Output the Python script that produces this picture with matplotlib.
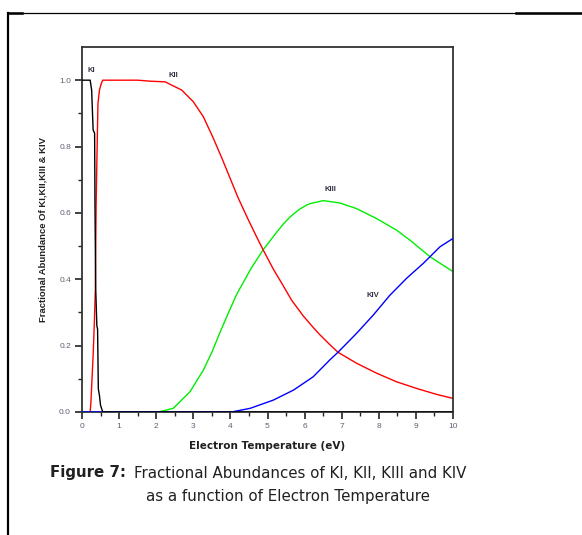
import matplotlib
matplotlib.use("Agg")
import matplotlib.pyplot as plt
from matplotlib.ticker import MultipleLocator, FixedLocator, FormatStrFormatter
from matplotlib.lines import Line2D

plt.rcParams['font.family'] = ['Liberation Sans', 'DejaVu Sans']

# ---- data ----
ki_x = [0.0, 0.16, 0.22, 0.26, 0.30, 0.34, 0.35, 0.37, 0.40, 0.42, 0.44, 0.47, 0.50, 0.53, 0.56, 1.0, 2.0, 4.0, 6.0, 8.0, 10.0]
ki_y = [1.0, 1.0, 1.0, 0.97, 0.85, 0.84, 0.62, 0.37, 0.26, 0.25, 0.07, 0.05, 0.02, 0.01, 0.0, 0.0, 0.0, 0.0, 0.0, 0.0, 0.0]

kii_x = [0.22, 0.24, 0.27, 0.30, 0.33, 0.36, 0.38, 0.40, 0.43, 0.47, 0.52, 0.56, 1.0, 1.5, 1.83, 2.24, 2.69, 3.0, 3.27,
         3.54, 3.77, 3.99, 4.21, 4.48, 4.71, 4.89, 5.16, 5.40, 5.65, 5.96, 6.23, 6.41, 6.68, 6.90, 7.40, 7.94, 8.48,
         9.02, 9.56, 10.0]
kii_y = [0.0, 0.03, 0.10, 0.17, 0.26, 0.37, 0.62, 0.75, 0.93, 0.97, 0.99, 1.0, 1.0, 1.0, 0.997, 0.995, 0.97, 0.935, 0.89,
         0.825, 0.765, 0.705, 0.645, 0.58, 0.527, 0.487, 0.43, 0.385, 0.337, 0.29, 0.255, 0.233, 0.203, 0.18, 0.147, 0.117,
         0.091, 0.071, 0.053, 0.041]

kiii_x = [0.0, 2.06, 2.46, 2.91, 3.27, 3.50, 3.72, 3.94, 4.17, 4.57, 4.89, 5.20, 5.43, 5.61, 5.85, 6.06, 6.15, 6.50, 6.95,
          7.40, 7.94, 8.48, 8.84, 9.38, 10.0]
kiii_y = [0.0, 0.0, 0.011, 0.061, 0.126, 0.18, 0.24, 0.297, 0.355, 0.435, 0.49, 0.535, 0.567, 0.588, 0.61, 0.624, 0.628,
          0.637, 0.63, 0.613, 0.583, 0.548, 0.518, 0.468, 0.423]

kiv_x = [0.0, 4.03, 4.53, 5.16, 5.70, 6.23, 6.68, 6.90, 7.40, 7.85, 8.30, 8.75, 9.20, 9.65, 10.0]
kiv_y = [0.0, 0.0, 0.011, 0.036, 0.066, 0.106, 0.157, 0.18, 0.237, 0.292, 0.352, 0.403, 0.448, 0.498, 0.523]

labels = ['KI', 'KII', 'KIII', 'KIV']
label_pos = [(0.25, 1.02), (2.45, 1.005), (6.7, 0.66), (7.85, 0.34)]

W, H = 582, 535
fig = plt.figure(figsize=(W / 100, H / 100), dpi=100)
fig.patch.set_facecolor('white')

# outer frame lines (figure coords)
ftr = fig.transFigure
fig.add_artist(Line2D([8 / W, 8 / W], [1 - 13 / H, 0], color='black', lw=1.6, transform=ftr))
fig.add_artist(Line2D([8 / W, 1], [1 - 13 / H, 1 - 13 / H], color='black', lw=0.9, transform=ftr))
fig.add_artist(Line2D([8 / W, 22 / W], [1 - 13 / H, 1 - 13 / H], color='black', lw=1.8, transform=ftr))
fig.add_artist(Line2D([516 / W, 1], [1 - 13 / H, 1 - 13 / H], color='black', lw=1.8, transform=ftr))

ax = fig.add_axes([82 / W, 1 - 412 / H, (453 - 82) / W, (412 - 47) / H])
ax.plot(kiv_x, kiv_y, color='#0000ff', lw=1.0, zorder=3)
ax.plot(kiii_x, kiii_y, color='#00ee00', lw=1.0, zorder=2)
ax.plot(kii_x, kii_y, color='#ff0000', lw=1.0, zorder=2)
ax.plot(ki_x, ki_y, color='black', lw=1.0, zorder=4)

ax.set_xlim(0, 10)
ax.set_ylim(0, 1.1)
ax.xaxis.set_major_locator(MultipleLocator(1))
ax.xaxis.set_minor_locator(MultipleLocator(0.5))
ax.yaxis.set_major_locator(MultipleLocator(0.2))
ax.yaxis.set_minor_locator(FixedLocator([0.1, 0.3, 0.5, 0.7, 0.9]))
ax.yaxis.set_major_formatter(FormatStrFormatter('%.1f'))
tick_col = '#606078'
ax.tick_params(which='major', direction='out', length=5, width=1.2, colors='#222222',
               labelcolor=tick_col, labelsize=6, pad=3)
ax.tick_params(which='minor', direction='out', length=3, width=1.0, colors='#222222')
for s in ax.spines.values():
    s.set_linewidth(1.3)
    s.set_color('#333333')

for t, (x, y) in zip(labels, label_pos):
    ax.text(x, y, t, fontsize=5.5, fontweight='bold', color='#303040', ha='center', va='bottom')

ax.set_xlabel('Electron Temperature (eV)', fontsize=7.5, fontweight='bold', color='#202020',
              family=['DejaVu Sans'], labelpad=8)
ax.set_ylabel('Fractional Abundance Of KI,KII,KIII & KIV', fontsize=6.8, fontweight='bold', color='#202020',
              labelpad=8)

fig.text(50 / W, 1 - 473 / H, 'Figure 7:', fontsize=10.8, fontweight='bold', color='#202020', va='center', ha='left',
         family=['DejaVu Sans'])
fig.text(134 / W, 1 - 473 / H, 'Fractional Abundances of KI, KII, KIII and KIV', fontsize=10.8,
         color='#202020', va='center', ha='left', family=['DejaVu Sans'])
fig.text(288 / W, 1 - 496 / H, 'as a function of Electron Temperature', fontsize=10.8,
         color='#202020', va='center', ha='center', family=['DejaVu Sans'])

fig.savefig('out.png', dpi=100, facecolor='white')
